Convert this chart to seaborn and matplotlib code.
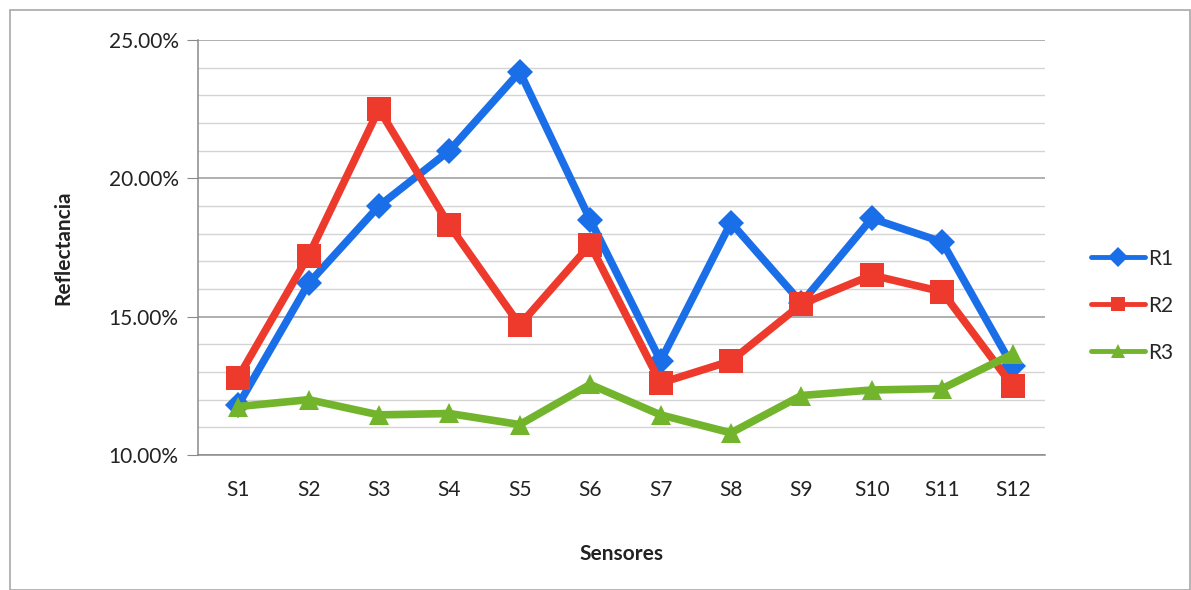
import matplotlib
matplotlib.use("Agg")
import matplotlib.pyplot as plt
import matplotlib.ticker as mticker
from matplotlib.patches import Rectangle
import seaborn as sns
import pandas as pd

sensores = ['S1', 'S2', 'S3', 'S4', 'S5', 'S6', 'S7', 'S8', 'S9', 'S10', 'S11', 'S12']
r1 = [11.8, 16.2, 19.0, 21.0, 23.85, 18.5, 13.4, 18.4, 15.5, 18.55, 17.7, 13.2]
r2 = [12.8, 17.2, 22.5, 18.3, 14.7, 17.6, 12.6, 13.4, 15.45, 16.5, 15.9, 12.5]
r3 = [11.75, 12.0, 11.45, 11.5, 11.1, 12.55, 11.45, 10.8, 12.15, 12.35, 12.4, 13.65]

series = {'R1': r1, 'R2': r2, 'R3': r3}
colors = {'R1': '#1a6fe8', 'R2': '#ee3a2c', 'R3': '#72b52c'}
markers = {'R1': 'D', 'R2': 's', 'R3': '^'}
msizes = {'R1': 13, 'R2': 17, 'R3': 15}

rows = []
for name, vals in series.items():
    for s, v in zip(sensores, vals):
        rows.append({'Sensores': s, 'Reflectancia': v, 'serie': name})
df = pd.DataFrame(rows)

sns.set_style('white')
plt.rcParams['font.family'] = ['Lato', 'DejaVu Sans']

fig = plt.figure(figsize=(11.91, 5.90), dpi=100)
ax = fig.add_axes([198 / 1191, 1 - 455 / 590, (1045 - 198) / 1191, (455 - 40) / 590])

# outer chart frame
fig.patches.append(Rectangle((10 / 1191, 0), 1180 / 1191, 1 - 10 / 590,
                             transform=fig.transFigure, fill=False,
                             edgecolor='#a8a8a8', linewidth=1.2))

for name in series:
    sub = df[df['serie'] == name]
    sns.lineplot(data=sub, x='Sensores', y='Reflectancia', ax=ax, color=colors[name],
                 linewidth=5.5, marker=markers[name], markersize=msizes[name],
                 markeredgewidth=0, label=name, sort=False)

ax.set_ylim(10, 25)
ax.set_xlim(-0.57, 11.46)
ax.yaxis.set_major_locator(mticker.MultipleLocator(5))
ax.yaxis.set_minor_locator(mticker.MultipleLocator(1))
ax.yaxis.set_major_formatter(mticker.FuncFormatter(lambda v, p: f'{v:.2f}%'))
ax.grid(axis='y', which='major', color='#9a9a9a', linewidth=1.1)
ax.grid(axis='y', which='minor', color='#d4d4d4', linewidth=1.0)
ax.set_axisbelow(True)

for side in ['top', 'right']:
    ax.spines[side].set_visible(False)
for side in ['left', 'bottom']:
    ax.spines[side].set_color('#8a8a8a')
    ax.spines[side].set_linewidth(1.1)

ax.tick_params(axis='y', which='major', length=8, color='#8a8a8a', labelsize=15,
               labelcolor='#222222', pad=6, left=True)
ax.tick_params(axis='y', which='minor', length=0)
ax.tick_params(axis='x', length=0, labelsize=15, labelcolor='#222222', pad=18)

ax.set_xlabel('Sensores', fontsize=15, fontweight='bold', color='#222222', labelpad=32)
ax.set_ylabel('Reflectancia', fontsize=15, fontweight='bold', color='#222222', labelpad=25)

leg = ax.legend(loc='center left', bbox_to_anchor=(1.032, 0.36), frameon=False,
                fontsize=15, handlelength=2.6, handletextpad=0.15, labelspacing=1.3)
for h in leg.legend_handles:
    h.set_linewidth(3.5)
    h.set_markersize(10)

fig.savefig('out.png', dpi=100, facecolor='white')
